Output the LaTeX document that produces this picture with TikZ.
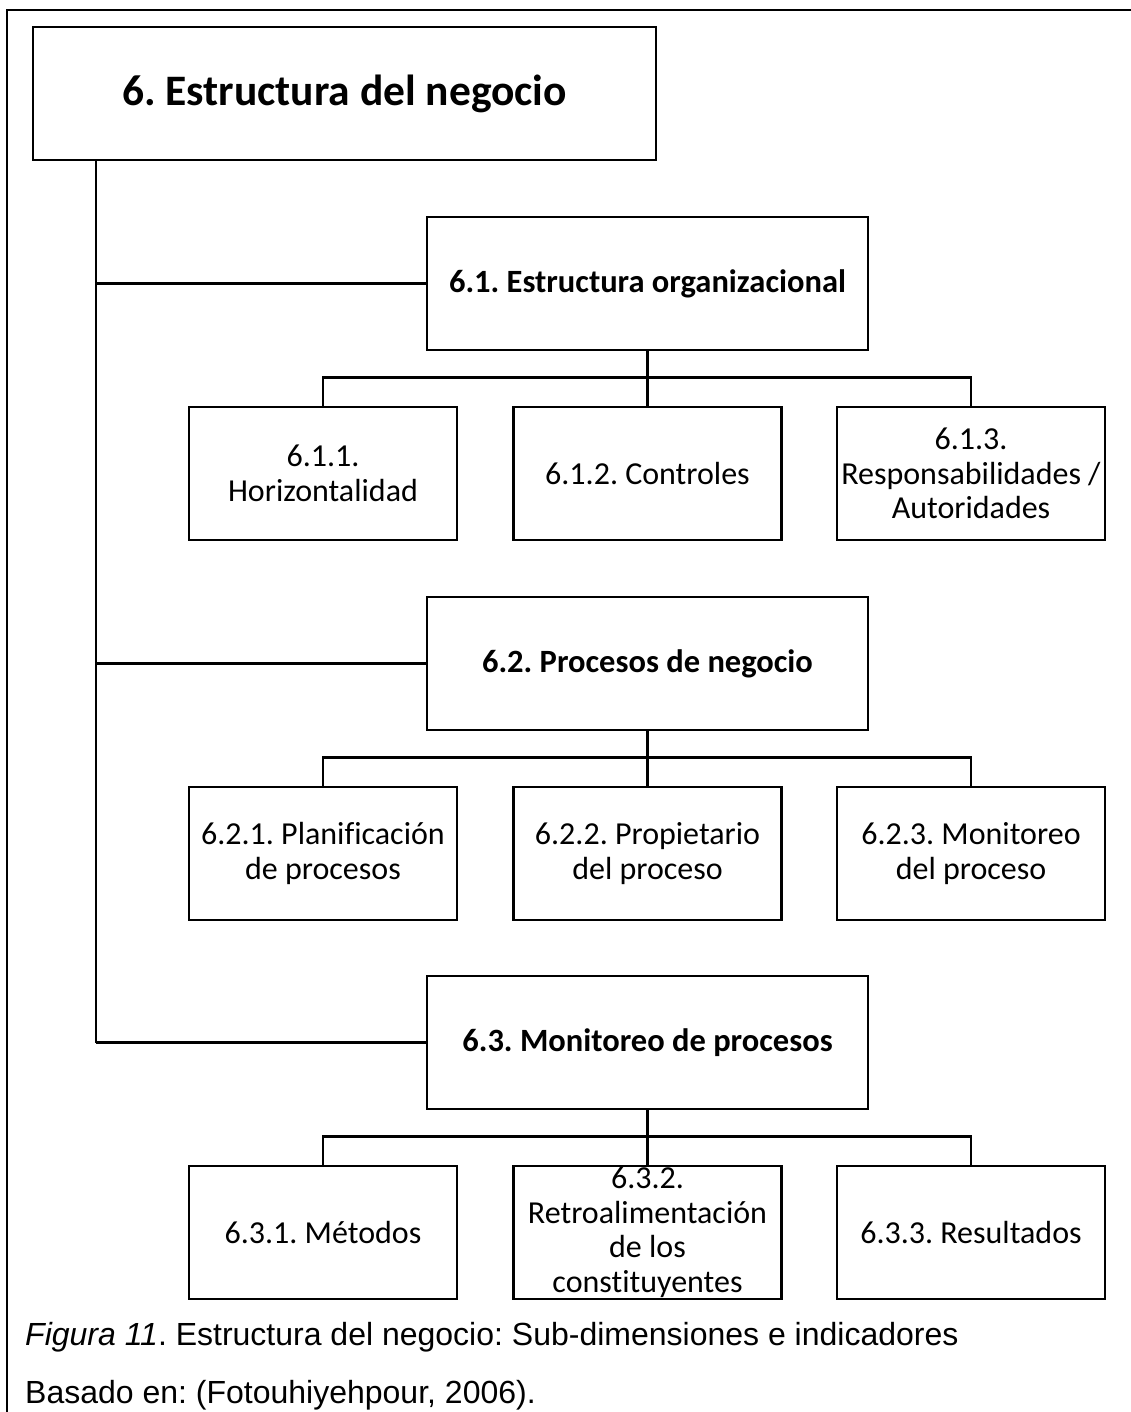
\documentclass[tikz,border=0pt]{standalone}
\usepackage{fontspec}
\setmainfont{Carlito}[Ligatures=NoCommon]
\newfontfamily\capfont{Liberation Sans}
\frenchspacing

\begin{document}
\begin{tikzpicture}[x=1pt,y=-1pt,
  every node/.style={inner sep=0pt, align=center},
  frame/.style={line width=2.6pt},
  link/.style={line width=2.5pt},
  rootbox/.style={draw, line width=2.5pt, minimum width=623pt, minimum height=133pt,
    font=\fontsize{43.5}{48}\selectfont\bfseries},
  midbox/.style={draw, line width=2.5pt, minimum width=441pt, minimum height=133pt,
    font=\fontsize{32.5}{34}\selectfont\bfseries},
  leafbox/.style={draw, line width=2.5pt, minimum width=268pt, minimum height=133pt,
    font=\fontsize{32}{34.5}\selectfont},
  captext/.style={anchor=base west, font=\capfont\fontsize{32}{36}\selectfont}]

\useasboundingbox (0,0) rectangle (1131,1412);

% outer frame (top and left edges)
\draw[frame] (7,1420) -- (7,10) -- (1140,10);

% main heading and trunk position
\node[rootbox] (root) at (344.5,93.5) {6. Estructura del negocio};
\coordinate (trunk) at (96,0);

% sub-dimensions
\node[midbox] (s1) at (647.5,283.5) {6.1. Estructura organizacional};
\node[midbox] (s2) at (647.5,663.5) {6.2. Procesos de negocio};
\node[midbox] (s3) at (647.5,1042.5) {6.3. Monitoreo de procesos};

% indicators of 6.1
\node[leafbox] (a1) at (323,473.5) {6.1.1.\\Horizontalidad};
\node[leafbox] (a2) at (647.5,473.5) {6.1.2. Controles};
\node[leafbox] (a3) at (971,473.5) {6.1.3.\\Responsabilidades /\\Autoridades};

% indicators of 6.2
\node[leafbox] (b1) at (323,853.5) {6.2.1. Planificación\\de procesos};
\node[leafbox] (b2) at (647.5,853.5) {6.2.2. Propietario\\del proceso};
\node[leafbox] (b3) at (971,853.5) {6.2.3. Monitoreo\\del proceso};

% indicators of 6.3
\node[leafbox] (c1) at (323,1232.5) {6.3.1. Métodos};
\node[leafbox] (c2) at (647.5,1232.5) {6.3.2.\\Retroalimentación\\de los\\constituyentes};
\node[leafbox] (c3) at (971,1232.5) {6.3.3. Resultados};

% trunk and branches
\draw[link] (root.south -| trunk) -- (s3.west -| trunk);
\foreach \s in {s1,s2,s3}
  \draw[link] (\s.west -| trunk) -- (\s.west);

% fan-out to indicators
\foreach \p/\l/\m/\r in {s1/a1/a2/a3, s2/b1/b2/b3, s3/c1/c2/c3} {
  \draw[link] (\p.south) -- (\m.north);
  \draw[link] (\l.north) -- ++(0,-28.5) -| (\r.north);
}

% caption
\node[captext] (cap1) at (25,1345) {{\itshape Figura 11}. Estructura del negocio: Sub-dimensiones e indicadores};
\node[captext] (cap2) at (25,1403) {Basado en: (Fotouhiyehpour, 2006).};

\end{tikzpicture}
\end{document}
